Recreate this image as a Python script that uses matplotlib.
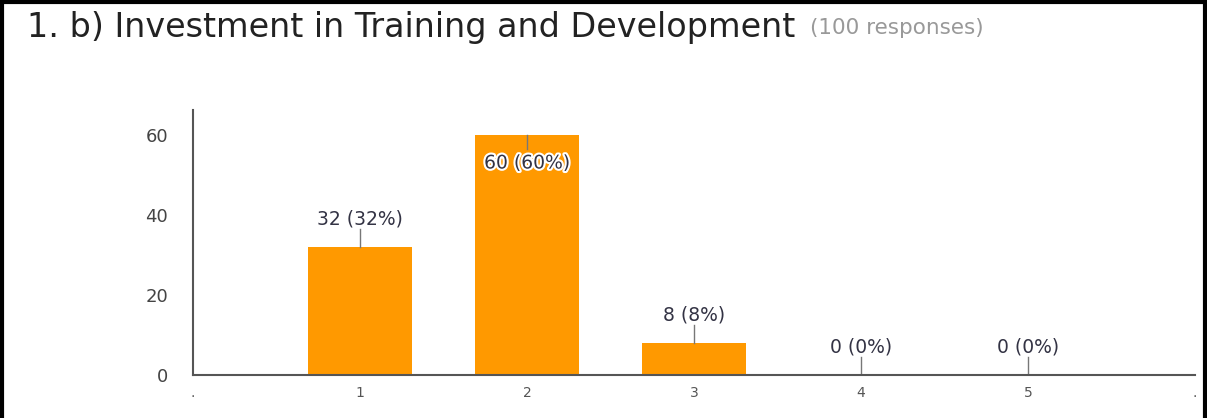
import matplotlib.pyplot as plt
from matplotlib.lines import Line2D
import matplotlib.patheffects as pe

# data
categories = [1, 2, 3, 4, 5]
counts = [32, 60, 8, 0, 0]
percents = [32, 60, 8, 0, 0]
tick_labels = ["1", "2", "3", "4", "5"]
y_ticks = [0, 20, 40, 60]
title = "1. b) Investment in Training and Development"
subtitle = "(100 responses)"

plt.rcParams["font.family"] = ["DejaVu Sans"]

fig = plt.figure(figsize=(12.07, 4.18), dpi=100)
ax = fig.add_axes([193 / 1207, 1 - 375 / 418, (1195 - 193) / 1207, (375 - 110) / 418])

bar_color = "#ff9900"
ax.bar(categories, counts, width=0.62, color=bar_color, zorder=2)

ax.set_xlim(0, 6)
ax.set_ylim(0, 66.25)
ax.set_yticks(y_ticks)
ax.set_yticklabels([str(v) for v in y_ticks], fontsize=13, color="#444444")
ax.set_xticks([0] + categories + [6])
ax.set_xticklabels(["."] + tick_labels + ["."], fontsize=10, color="#555555")
ax.tick_params(axis="y", length=0, pad=18)
ax.tick_params(axis="x", length=0, pad=8)

for s in ["top", "right"]:
    ax.spines[s].set_visible(False)
for s in ["left", "bottom"]:
    ax.spines[s].set_color("#555555")
    ax.spines[s].set_linewidth(1.5)
ax.spines["bottom"].set_zorder(3)

# value labels with leader lines
for x, c, p in zip(categories, counts, percents):
    label = f"{c} ({p}%)"
    if c >= 50:
        ax.plot([x, x], [c, c - 3.5], color="#777777", lw=1, zorder=3)
        ax.text(x, c - 7, label, ha="center", va="center", fontsize=13.5,
                color="#333344", zorder=4,
                path_effects=[pe.withStroke(linewidth=3, foreground="white")])
    else:
        ax.plot([x, x], [c, c + 4.5], color="#777777", lw=1, zorder=3)
        ax.text(x, c + 7, label, ha="center", va="center", fontsize=13.5,
                color="#333344", zorder=4)

# title
fig.text(27 / 1207, 1 - 28 / 418, title, fontsize=24, color="#222222",
         ha="left", va="center")
fig.text(810 / 1207, 1 - 28 / 418, subtitle, fontsize=15.5, color="#999999",
         ha="left", va="center")

# black frame on top, left and right
for xs, ys in [([0, 1], [0.996, 0.996]), ([0.0015, 0.0015], [0, 1]), ([0.9985, 0.9985], [0, 1])]:
    fig.add_artist(Line2D(xs, ys, transform=fig.transFigure, color="black", lw=3))

fig.savefig("out.png", dpi=100, facecolor="white")
